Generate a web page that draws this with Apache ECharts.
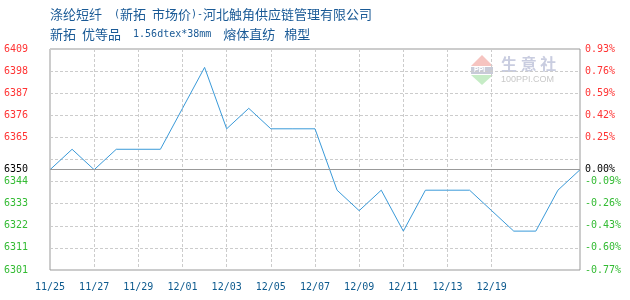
<!DOCTYPE html>
<html>
<head>
<meta charset="utf-8">
<script src="https://cdn.jsdelivr.net/npm/echarts@6/dist/echarts.min.js"></script>
<style>html,body{margin:0;padding:0;background:#fff;}#c{width:630px;height:300px;}</style>
</head>
<body>
<div id="c"></div>
<script>
const titleLine1 = '{c|涤纶短纤}{m|  (}{c|新拓}{m| }{c|市场价}{m|)-}{c|河北触角供应链管理有限公司}';
const titleLine2 = '{c|新拓}{m| }{c|优等品}{m|  1.56dtex*38mm  }{c|熔体直纺 }{m| }{c|棉型}';
const dates = ['11/25','11/26','11/27','11/28','11/29','11/30','12/01','12/02','12/03','12/04','12/05','12/06','12/07','12/08','12/09','12/10','12/11','12/12','12/13','12/18','12/19','12/20','12/21','12/22','12/23'];
const prices = [6350,6360,6350,6360,6360,6360,6380,6400,6370,6380,6370,6370,6370,6340,6330,6340,6320,6340,6340,6340,6330,6320,6320,6340,6350];
const basePrice = 6350;
const priceMin = 6301, priceMax = 6409;
const leftTicks = ['6301','6311','6322','6333','6344','','6365','6376','6387','6398','6409'];
const rightTicks = ['-0.77%','-0.60%','-0.43%','-0.26%','-0.09%','','0.25%','0.42%','0.59%','0.76%','0.93%'];
const baseLabels = ['6350', '0.00%'];

const RED = '#ff3333', GREEN = '#33bb33', BLUE_TXT = '#0d5a8e', GRID = '#cccccc', TITLE = '#1a5a96';
const tickFont = 'DejaVu Sans Mono';
const chart = echarts.init(document.getElementById('c'));
const showIdx = (i) => i % 2 === 0 && i <= 20;
chart.setOption({
  animation: false,
  backgroundColor: '#fff',
  title: {
    text: titleLine1 + '\n' + titleLine2,
    left: 50, top: 4, padding: 0,
    textStyle: {
      fontFamily: 'Noto Sans CJK SC', fontSize: 13, fontWeight: 'normal', color: TITLE, lineHeight: 20,
      rich: {
        c: {fontFamily: 'Noto Sans CJK SC', fontSize: 13, color: TITLE, lineHeight: 20},
        m: {fontFamily: tickFont, fontSize: 10, color: TITLE, lineHeight: 20}
      }
    }
  },
  grid: {left: 50, right: 50, top: 49, bottom: 30, show: true, borderColor: '#999', borderWidth: 1, backgroundColor: 'transparent'},
  xAxis: {
    type: 'category', data: dates, boundaryGap: false,
    axisLine: {show: false}, axisTick: {show: false},
    axisLabel: {interval: (i) => showIdx(i), color: BLUE_TXT, fontFamily: tickFont, fontSize: 10, margin: 12},
    splitLine: {show: true, interval: (i) => showIdx(i) && i > 0, lineStyle: {color: GRID, type: [3, 2]}}
  },
  yAxis: [
    {type: 'value', min: priceMin, max: priceMax, show: false, splitLine: {show: false}},
    {type: 'value', position: 'left', min: 0, max: 10, interval: 1,
     axisLine: {show: false}, axisTick: {show: false},
     axisLabel: {margin: 22, fontFamily: tickFont, fontSize: 10,
       formatter: (v) => leftTicks[Math.round(v)],
       color: (v) => (Math.round(v) > 5 ? RED : GREEN)},
     splitLine: {show: true, lineStyle: {color: GRID, type: [3, 2]}}},
    {type: 'value', position: 'right', min: 0, max: 10, interval: 1,
     axisLine: {show: false}, axisTick: {show: false},
     axisLabel: {margin: 5, fontFamily: tickFont, fontSize: 10,
       formatter: (v) => rightTicks[Math.round(v)],
       color: (v) => (Math.round(v) > 5 ? RED : GREEN)},
     splitLine: {show: false}}
  ],
  graphic: [
    {type: 'polygon', left: 471, top: 55, shape: {points: [[11,0],[22,11],[0,11]]}, style: {fill: '#f6c4c0'}, silent: true},
    {type: 'rect', left: 471, top: 67, shape: {width: 22, height: 7}, style: {fill: '#c8cbd8'}, silent: true},
    {type: 'text', left: 474, top: 67, style: {text: 'PPI', fill: '#ffffff', font: 'bold 7px Liberation Sans'}, silent: true},
    {type: 'polygon', left: 471, top: 75, shape: {points: [[0,0],[22,0],[11,10]]}, style: {fill: '#c6ecc6'}, silent: true},
    {type: 'text', left: 501, top: 56, style: {text: '生 意 社', fill: '#c9cde0', font: 'bold 16px "Noto Sans CJK SC"'}, silent: true},
    {type: 'text', left: 501, top: 75, style: {text: '100PPI.COM', fill: '#c8c8c8', font: '9px "Liberation Sans"'}, silent: true}
  ],
  series: [{
    type: 'line', data: prices, yAxisIndex: 0, symbol: 'none', smooth: false,
    lineStyle: {color: '#3a9ad9', width: 1}, itemStyle: {color: '#3a9ad9'},
    markLine: {
      silent: true, symbol: 'none', animation: false,
      lineStyle: {color: '#999', type: 'solid', width: 1},
      data: [
        {yAxis: basePrice, label: {show: true, position: 'start', distance: 22, formatter: baseLabels[0], color: '#000', fontFamily: tickFont, fontSize: 10}},
        {yAxis: basePrice, label: {show: true, position: 'end', distance: 5, formatter: baseLabels[1], color: '#000', fontFamily: tickFont, fontSize: 10}}
      ]
    }
  }]
});
</script>
</body>
</html>
